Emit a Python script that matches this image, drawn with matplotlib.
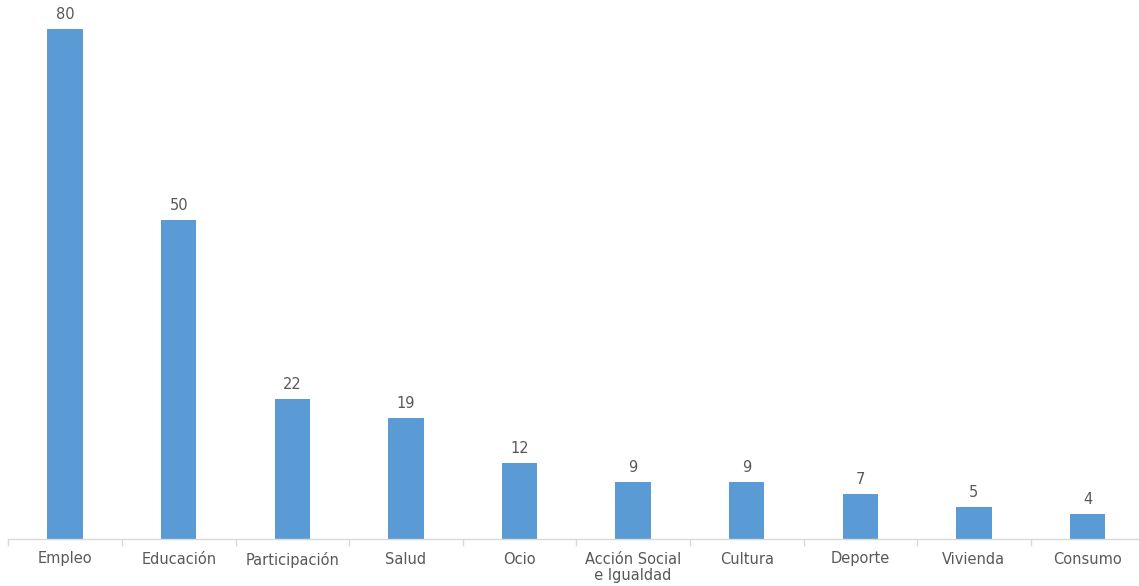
import matplotlib.pyplot as plt
import numpy as np

plt.rcParams["font.family"] = ["DejaVu Sans"]

categories = ["Empleo", "Educación", "Participación", "Salud", "Ocio",
              "Acción Social\n  e Igualdad", "Cultura", "Deporte", "Vivienda", "Consumo"]
values = [80, 50, 22, 19, 12, 9, 9, 7, 5, 4]

bar_color = "#5B9BD5"
text_color = "#595959"
axis_color = "#D9D9D9"

fig = plt.figure(figsize=(11.39, 5.86), dpi=100)
ax = fig.add_axes([8.3 / 1139, 47 / 586, 1136 / 1139, 539 / 586])

x = np.arange(len(categories))
bars = ax.bar(x, values, width=0.31, color=bar_color, zorder=2)

for rect, v in zip(bars, values):
    ax.annotate(str(v), (rect.get_x() + rect.get_width() / 2, rect.get_height()),
                xytext=(0, 5), textcoords="offset points", ha="center", va="bottom",
                fontsize=10.5, color=text_color)

ax.set_xlim(-0.5, len(categories) - 0.5)
ax.set_ylim(0, 539 / 6.375)

ax.set_xticks(x)
labels = ax.set_xticklabels(categories, fontsize=10.5, color=text_color, linespacing=1.15)
for lbl in labels:
    lbl.set_multialignment("left")
ax.tick_params(axis="x", which="major", length=0, pad=9)
ax.set_xticks(np.arange(-0.5, len(categories) + 0.5, 1), minor=True)
ax.tick_params(axis="x", which="minor", length=5, width=1, color=axis_color)

ax.set_yticks([])
for side in ["top", "right", "left"]:
    ax.spines[side].set_visible(False)
ax.spines["bottom"].set_color(axis_color)
ax.spines["bottom"].set_linewidth(1)

fig.savefig("out.png", dpi=100)
